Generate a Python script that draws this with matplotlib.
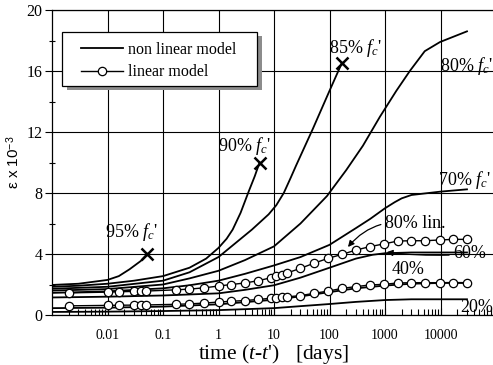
import matplotlib
matplotlib.use('Agg')
import matplotlib.pyplot as plt
from matplotlib.patches import Rectangle
from matplotlib.ticker import FixedLocator, LogLocator, NullFormatter, MultipleLocator

plt.rcParams['font.family'] = ['Liberation Serif', 'DejaVu Serif']
plt.rcParams['mathtext.fontset'] = 'custom'
plt.rcParams['mathtext.rm'] = 'Liberation Serif'
plt.rcParams['mathtext.it'] = 'Liberation Serif:italic'
plt.rcParams['mathtext.sf'] = 'Liberation Sans'

# non linear model: time [days] vs strain x 1e-3, one pair per stress level
t_20 = [0.001, 0.01, 0.1, 1, 10, 30, 100, 300, 1000, 3000, 10000, 30000]
e_20 = [0.2, 0.22, 0.26, 0.32, 0.45, 0.58, 0.72, 0.86, 0.98, 1.03, 1.03, 1.03]

t_40 = [0.001, 0.01, 0.1, 1, 10, 30, 100, 300, 1000, 3000, 10000, 30000]
e_40 = [0.45, 0.48, 0.55, 0.7, 1.0, 1.22, 1.5, 1.75, 1.93, 2.05, 2.1, 2.1]

t_60 = [0.001, 0.01, 0.1, 1, 3, 10, 30, 100, 300, 600, 1000, 3000, 10000, 30000]
e_60 = [1.15, 1.2, 1.28, 1.42, 1.65, 1.95, 2.45, 3.1, 3.7, 3.95, 4.05, 4.1, 4.1, 4.1]

t_70 = [0.001, 0.01, 0.1, 0.3, 1, 3, 10, 30, 100, 300, 540, 1000, 1500, 2000, 3000, 10000, 30000]
e_70 = [1.45, 1.55, 1.75, 1.95, 2.25, 2.7, 3.25, 3.8, 4.6, 5.7, 6.3, 7.0, 7.4, 7.65, 7.87, 8.09, 8.24]

t_80 = [0.001, 0.01, 0.1, 0.3, 1, 3, 10, 30, 90, 200, 400, 810, 1600, 2800, 5200, 9800, 30000]
e_80 = [1.6, 1.7, 2.0, 2.4, 2.9, 3.6, 4.5, 6.0, 7.8, 9.5, 11.1, 13.0, 14.7, 16.0, 17.3, 17.9, 18.6]

t_85 = [0.001, 0.01, 0.1, 0.3, 1, 2, 4, 8, 11, 15, 20, 25, 50, 100, 166]
e_85 = [1.72, 1.85, 2.25, 2.8, 3.8, 4.7, 5.6, 6.6, 7.2, 8.0, 9.0, 9.8, 12.2, 14.7, 16.5]

t_90 = [0.001, 0.003, 0.01, 0.03, 0.1, 0.3, 0.6, 1, 1.4, 1.8, 2.5, 3.5, 4.5, 5.5]
e_90 = [1.85, 1.92, 2.05, 2.25, 2.55, 3.1, 3.7, 4.4, 5.0, 5.6, 6.7, 8.1, 9.1, 10.0]

t_95 = [0.001, 0.003, 0.01, 0.016, 0.025, 0.04, 0.052]
e_95 = [1.97, 2.05, 2.3, 2.55, 3.0, 3.55, 4.0]

# failure points (end of the 85/90/95 % curves)
t_fail = [0.052, 5.5, 166]
e_fail = [4.0, 10.0, 16.5]

# linear model (circles)
t_lin = [0.002, 0.01, 0.016, 0.03, 0.04, 0.05, 0.17, 0.3, 0.55, 1, 1.7, 3, 5.2, 9, 11, 14, 17,
         30, 52, 95, 170, 300, 530, 950, 1700, 3000, 5200, 9800, 17000, 30000]
e_lin40 = [0.6, 0.63, 0.64, 0.65, 0.66, 0.66, 0.7, 0.73, 0.78, 0.85, 0.9, 0.95, 1.02, 1.1, 1.13,
           1.16, 1.19, 1.27, 1.42, 1.57, 1.75, 1.86, 1.97, 2.01, 2.1, 2.12, 2.12, 2.12, 2.13, 2.12]
e_lin80 = [1.45, 1.5, 1.52, 1.55, 1.56, 1.57, 1.65, 1.7, 1.78, 1.9, 2.0, 2.1, 2.25, 2.45, 2.55,
           2.65, 2.75, 3.06, 3.39, 3.72, 3.98, 4.26, 4.48, 4.66, 4.85, 4.87, 4.87, 4.92, 4.96, 4.96]

xtick_vals = [0.01, 0.1, 1, 10, 100, 1000, 10000]
xtick_labels = ['0.01', '0.1', '1', '10', '100', '1000', '10000']
ytick_vals = [0, 4, 8, 12, 16, 20]

fig = plt.figure(figsize=(4.93, 3.65), dpi=100)
ax = fig.add_axes([52 / 493, 50 / 365, 444 / 493, 305 / 365])

lw = 1.3
ax.plot(t_95, e_95, 'k-', lw=lw)
ax.plot(t_90, e_90, 'k-', lw=lw)
ax.plot(t_85, e_85, 'k-', lw=lw)
ax.plot(t_80, e_80, 'k-', lw=lw, label='non linear model')
ax.plot(t_70, e_70, 'k-', lw=lw)
ax.plot(t_60, e_60, 'k-', lw=lw)
ax.plot(t_40, e_40, 'k-', lw=lw)
ax.plot(t_20, e_20, 'k-', lw=lw)
ax.plot(t_lin, e_lin80, 'k-o', lw=1.0, ms=6, mfc='white', mec='k', mew=0.9, label='linear model')
ax.plot(t_lin, e_lin40, 'k-o', lw=1.0, ms=6, mfc='white', mec='k', mew=0.9)
ax.plot(t_fail, e_fail, 'kx', ms=9, mew=1.8)

ax.set_xscale('log')
ax.set_xlim(0.001, 100000)
ax.set_ylim(0, 20)

ax.xaxis.set_major_locator(FixedLocator(xtick_vals))
ax.set_xticklabels(xtick_labels, fontsize=10)
ax.xaxis.set_minor_locator(LogLocator(base=10, subs=range(2, 10), numticks=20))
ax.xaxis.set_minor_formatter(NullFormatter())
ax.set_yticks(ytick_vals)
ax.set_yticklabels([str(v) for v in ytick_vals], fontsize=11.5)
ax.yaxis.set_minor_locator(MultipleLocator(2))

ax.tick_params(axis='x', which='major', direction='in', length=5, width=0.8, pad=10)
ax.tick_params(axis='x', which='minor', direction='in', length=4, width=0.8)
ax.tick_params(axis='y', which='major', direction='out', length=5, width=0.8, pad=2)
ax.tick_params(axis='y', which='minor', direction='inout', length=4, width=0.8)

ax.grid(True, which='major', color='k', lw=0.8)
for sp in ax.spines.values():
    sp.set_linewidth(0.9)

ax.set_xlabel("time ($t$-$t$')   [days]", fontsize=15.5, labelpad=0)
ax.set_ylabel(r'ε x 10$^{\mathsf{-3}}$', family='Liberation Sans', fontsize=11, labelpad=3)

fs = 13
ax.text(0.009, 5.45, "95% $f_c$'", fontsize=fs, va='center')
ax.text(1.0, 11.1, "90% $f_c$'", fontsize=fs, va='center')
ax.text(98, 17.5, "85% $f_c$'", fontsize=fs, va='center')
ax.text(9800, 16.3, "80% $f_c$'", fontsize=fs, va='center')
ax.text(9100, 8.85, "70% $f_c$'", fontsize=fs, va='center')
ax.text(1320, 3.0, '40%', fontsize=fs, va='center')
ax.text(23000, 0.52, '20%', fontsize=fs, va='center')
ax.annotate('80% lin.', xy=(215, 4.46), xytext=(1000, 5.97), fontsize=fs, va='center',
            arrowprops=dict(arrowstyle='-|>', connectionstyle='arc3,rad=0.3', color='k',
                            lw=0.9, mutation_scale=9, shrinkA=1, shrinkB=0))
ax.annotate('60%', xy=(1070, 4.12), xytext=(17000, 4.0), fontsize=fs, va='center',
            arrowprops=dict(arrowstyle='-|>', connectionstyle='arc3,rad=-0.05', color='k',
                            lw=0.9, mutation_scale=9, shrinkA=1, shrinkB=0))

# legend frame with drop shadow, drawn by hand so the padding matches
shadow = Rectangle((0.034, 0.737), 0.439, 0.177, transform=ax.transAxes,
                   facecolor='0.55', edgecolor='none', zorder=4)
frame = Rectangle((0.0225, 0.751), 0.439, 0.177, transform=ax.transAxes,
                  facecolor='white', edgecolor='k', lw=0.9, zorder=4.1)
ax.add_patch(shadow)
ax.add_patch(frame)
leg = ax.legend(loc='upper left', bbox_to_anchor=(0.0646, 0.895), borderaxespad=0,
                fontsize=11.5, handlelength=2.66, handletextpad=0.3, borderpad=0,
                labelspacing=0.38, frameon=False)
leg.set_zorder(5)

fig.savefig('out.png', dpi=100)
